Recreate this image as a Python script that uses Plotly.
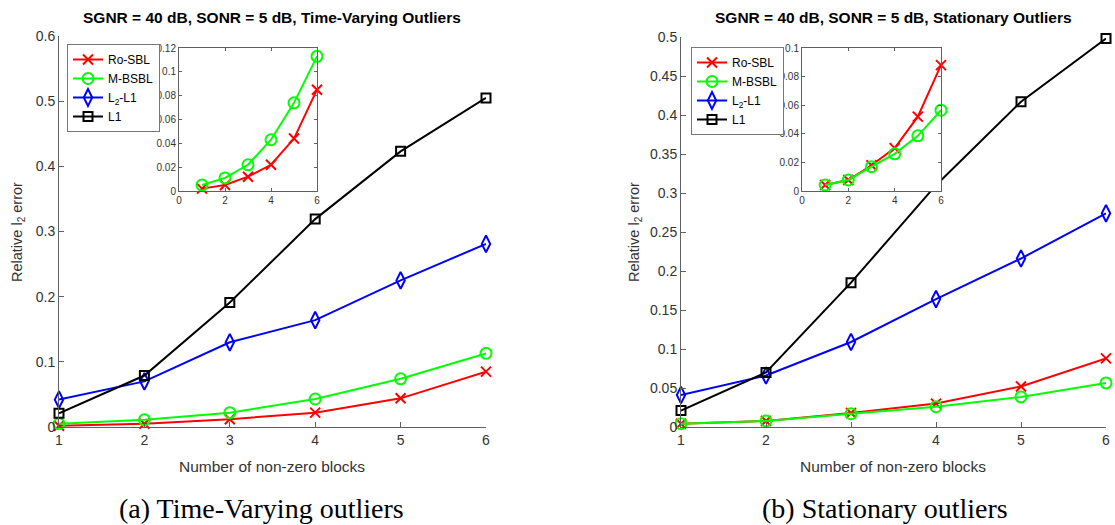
import plotly.graph_objects as go

blocks = [1, 2, 3, 4, 5, 6]
series_names = ["Ro-SBL", "M-BSBL", "L<sub>2</sub>-L1", "L1"]

# (a) Time-Varying outliers
tv_rosbl = [0.002, 0.005, 0.012, 0.022, 0.044, 0.085]
tv_mbsbl = [0.005, 0.011, 0.022, 0.043, 0.074, 0.113]
tv_l2l1 = [0.042, 0.070, 0.130, 0.164, 0.225, 0.281]
tv_l1 = [0.021, 0.079, 0.191, 0.319, 0.423, 0.505]

# (b) Stationary outliers
st_rosbl = [0.0042, 0.0077, 0.018, 0.030, 0.052, 0.088]
st_mbsbl = [0.0042, 0.0077, 0.017, 0.026, 0.0386, 0.0565]
st_l2l1 = [0.041, 0.066, 0.109, 0.164, 0.216, 0.274]
st_l1 = [0.021, 0.070, 0.185, 0.310, 0.417, 0.498]

left_yticks = [0, 0.1, 0.2, 0.3, 0.4, 0.5, 0.6]
left_yticktext = ["0", "0.1", "0.2", "0.3", "0.4", "0.5", "0.6"]
right_yticks = [0, 0.05, 0.1, 0.15, 0.2, 0.25, 0.3, 0.35, 0.4, 0.45, 0.5]
right_yticktext = ["0", "0.05", "0.1", "0.15", "0.2", "0.25", "0.3", "0.35", "0.4", "0.45", "0.5"]
inset_xticks = [0, 2, 4, 6]
left_inset_yticks = [0, 0.02, 0.04, 0.06, 0.08, 0.1, 0.12]
left_inset_yticktext = ["0", "0.02", "0.04", "0.06", "0.08", "0.1", "0.12"]
right_inset_yticks = [0, 0.02, 0.04, 0.06, 0.08, 0.1]
right_inset_yticktext = ["0", "0.02", "0.04", "0.06", "0.08", "0.1"]

titles = ["SGNR = 40 dB, SONR = 5 dB, Time-Varying Outliers",
          "SGNR = 40 dB, SONR = 5 dB, Stationary Outliers"]
captions = ["(a) Time-Varying outliers", "(b) Stationary outliers"]

colors = ["#ff0000", "#00ff00", "#0000ff", "#000000"]
symbols = ["x-thin-open", "circle-open", "diamond-tall-open", "square-open"]
msizes = [10, 11, 12, 9]

W, H = 1115, 525
FONT = "Liberation Sans, Arial, sans-serif"
AX = "#606060"
TXT = "#333333"


def px(x):
    return x / W


def py(y):
    return (H - y) / H


fig = go.Figure()


def add_series(data, xa, ya, legend, showlegend):
    for i, (vals, name) in enumerate(zip(data, series_names)):
        fig.add_trace(go.Scatter(
            x=blocks, y=vals, name=name, mode="lines+markers",
            xaxis=xa, yaxis=ya, legend=legend, showlegend=showlegend,
            line=dict(color=colors[i], width=2),
            marker=dict(symbol=symbols[i], size=msizes[i], color=colors[i],
                        line=dict(color=colors[i], width=2)),
            cliponaxis=False,
        ))


add_series([tv_rosbl, tv_mbsbl, tv_l2l1, tv_l1], "x", "y", "legend", True)
add_series([st_rosbl, st_mbsbl, st_l2l1, st_l1], "x2", "y2", "legend2", True)
add_series([tv_rosbl, tv_mbsbl], "x3", "y3", "legend", False)
add_series([st_rosbl, st_mbsbl], "x4", "y4", "legend2", False)

main_axis = dict(showgrid=False, zeroline=False, showline=True, linecolor=AX, linewidth=1,
                 ticks="inside", ticklen=5, tickcolor=AX, mirror=False, automargin=False,
                 tickfont=dict(family=FONT, size=14, color=TXT))
inset_axis = dict(showgrid=False, zeroline=False, showline=True, linecolor=AX, linewidth=1,
                  ticks="inside", ticklen=3, tickcolor=AX, mirror="ticks", automargin=False,
                  tickfont=dict(family=FONT, size=10, color=TXT))

layout = dict(
    template="none",
    width=W, height=H, margin=dict(l=0, r=0, t=0, b=0, pad=0), autosize=False,
    paper_bgcolor="white", plot_bgcolor="white",
    xaxis=dict(main_axis, domain=[px(59), px(486)], range=[1, 6], tickvals=blocks, anchor="y"),
    yaxis=dict(main_axis, domain=[py(427), py(36)], range=[0, 0.6], tickvals=left_yticks,
               ticktext=left_yticktext, anchor="x"),
    xaxis2=dict(main_axis, domain=[px(681), px(1106)], range=[1, 6], tickvals=blocks, anchor="y2"),
    yaxis2=dict(main_axis, domain=[py(427), py(37)], range=[0, 0.5], tickvals=right_yticks,
                ticktext=right_yticktext, anchor="x2"),
    xaxis3=dict(inset_axis, domain=[px(179), px(317)], range=[0, 6], tickvals=inset_xticks, anchor="y3"),
    yaxis3=dict(inset_axis, domain=[py(191), py(48)], range=[0, 0.12], tickvals=left_inset_yticks,
                ticktext=left_inset_yticktext, anchor="x3"),
    xaxis4=dict(inset_axis, domain=[px(802), px(941)], range=[0, 6], tickvals=inset_xticks, anchor="y4"),
    yaxis4=dict(inset_axis, domain=[py(191), py(48)], range=[0, 0.1], tickvals=right_inset_yticks,
                ticktext=right_inset_yticktext, anchor="x4"),
    legend=dict(x=px(67), y=py(44), xanchor="left", yanchor="top", bgcolor="white",
                bordercolor="#777777", borderwidth=1, font=dict(family=FONT, size=12, color="#000"),
                tracegroupgap=0, itemwidth=30),
    legend2=dict(x=px(691), y=py(47), xanchor="left", yanchor="top", bgcolor="white",
                 bordercolor="#777777", borderwidth=1, font=dict(family=FONT, size=12, color="#000"),
                 tracegroupgap=0, itemwidth=30),
    showlegend=True,
)
fig.update_layout(**layout)

annots = []


def note(x, y, text, font, angle=0):
    annots.append(dict(x=px(x), y=py(y), xref="paper", yref="paper", text=text,
                       xanchor="center", yanchor="middle", textangle=angle,
                       showarrow=False, font=font))


for cx, t in zip([272, 893], titles):
    note(cx, 17, "<b>" + t + "</b>", dict(family=FONT, size=15.5, color="#000"))
for cx in [272, 893]:
    note(cx, 466, "Number of non-zero blocks", dict(family=FONT, size=15.5, color=TXT))
for cx in [18, 635]:
    note(cx, 232, "Relative l<sub>2</sub> error", dict(family=FONT, size=14.5, color=TXT), -90)
for cx, c in zip([261, 885], captions):
    note(cx, 508, c, dict(family="Liberation Serif, Times New Roman, serif", size=28, color="#000"))
fig.update_layout(annotations=annots)

fig.write_html("out.html", config={"displayModeBar": False},
               post_script="document.body.style.margin='0';document.body.style.overflow='hidden';")
